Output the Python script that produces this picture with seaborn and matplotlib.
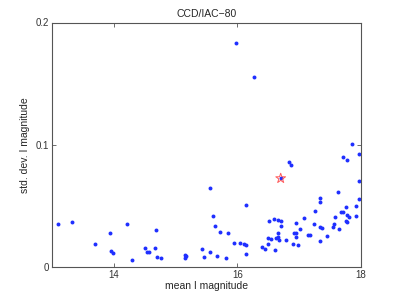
import matplotlib
matplotlib.use("Agg")
import matplotlib.pyplot as plt
import seaborn as sns
import pandas as pd

# mean I magnitude / std dev for each star
mean_mag = [13.10, 13.32, 13.69, 13.94, 13.96, 13.99, 14.21, 14.30, 14.50, 14.54,
            14.57, 14.67, 14.69, 14.70, 14.77, 15.15, 15.16, 15.17, 15.42, 15.46,
            15.55, 15.55, 15.61, 15.64, 15.67, 15.72, 15.81, 15.84, 15.94, 15.98,
            16.05, 16.11, 16.14, 16.14, 16.14, 16.27, 16.39, 16.45, 16.49, 16.50,
            16.51, 16.55, 16.59, 16.61, 16.63, 16.65, 16.65, 16.66, 16.68, 16.70,
            16.70, 16.71, 16.79, 16.84, 16.86, 16.90, 16.92, 16.94, 16.95, 16.95,
            16.98, 17.01, 17.07, 17.14, 17.18, 17.24, 17.26, 17.33, 17.33, 17.33,
            17.34, 17.36, 17.45, 17.55, 17.56, 17.57, 17.63, 17.64, 17.67, 17.70,
            17.70, 17.75, 17.76, 17.77, 17.77, 17.78, 17.80, 17.85, 17.91, 17.92,
            17.96, 17.96, 17.97]
std_mag = [0.0352, 0.0369, 0.0186, 0.0282, 0.0134, 0.0115, 0.0348, 0.0061, 0.0159, 0.0120,
           0.0120, 0.0153, 0.0303, 0.0085, 0.0074, 0.0096, 0.0077, 0.0090, 0.0148, 0.0082,
           0.0648, 0.0123, 0.0416, 0.0334, 0.0090, 0.0290, 0.0077, 0.0282, 0.0194, 0.1831,
           0.0194, 0.0192, 0.0184, 0.0110, 0.0506, 0.1552, 0.0167, 0.0148, 0.0189, 0.0241,
           0.0380, 0.0230, 0.0391, 0.0137, 0.0238, 0.0282, 0.0383, 0.0243, 0.0219, 0.0334,
           0.0725, 0.0380, 0.0221, 0.0861, 0.0836, 0.0192, 0.0282, 0.0282, 0.0361, 0.0249,
           0.0184, 0.0309, 0.0399, 0.0260, 0.0260, 0.0352, 0.0457, 0.0561, 0.0528, 0.0211,
           0.0325, 0.0317, 0.0254, 0.0331, 0.0355, 0.0413, 0.0615, 0.0309, 0.0446, 0.0451,
           0.0902, 0.0492, 0.0380, 0.0369, 0.0877, 0.0424, 0.0410, 0.1003, 0.0416, 0.0500,
           0.0926, 0.0705, 0.0555]

# highlighted target
star_mag = [16.70]
star_std = [0.0725]

df = pd.DataFrame({"mag": mean_mag, "std": std_mag})
target = pd.DataFrame({"mag": star_mag, "std": star_std})

sns.set_style("ticks")
plt.rcParams["font.family"] = ["Liberation Sans", "DejaVu Sans"]
plt.rcParams["font.stretch"] = "normal"

fig = plt.figure(figsize=(3.99, 3.0), dpi=100)
ax = fig.add_axes([0.13, 0.11, 0.775, 0.815])

sns.scatterplot(data=df, x="mag", y="std", ax=ax, color="#1f2fff",
                s=8, linewidth=0, legend=False)
sns.scatterplot(data=target, x="mag", y="std", ax=ax, marker="*",
                facecolor="none", edgecolor="#ff5a5a", s=55, linewidth=0.7,
                legend=False)

ax.set_xlim(13, 18)
ax.set_ylim(0, 0.2)
ax.set_xticks([14, 16, 18])
ax.set_yticks([0, 0.1, 0.2])
ax.set_yticklabels(["0", "0.1", "0.2"])
ax.tick_params(direction="in", length=3, width=0.5, labelsize=7,
               top=True, right=True, colors="#333333", pad=2)
for sp in ax.spines.values():
    sp.set_visible(True)
    sp.set_linewidth(0.8)
    sp.set_color("#555555")

ax.set_xlabel("mean I magnitude", fontsize=7.5, labelpad=1)
ax.set_ylabel("std. dev. I magnitude", fontsize=7.5, labelpad=4)
ax.set_title("CCD/IAC\u221280", fontsize=7.5, pad=4)

fig.savefig("out.png", dpi=100)
